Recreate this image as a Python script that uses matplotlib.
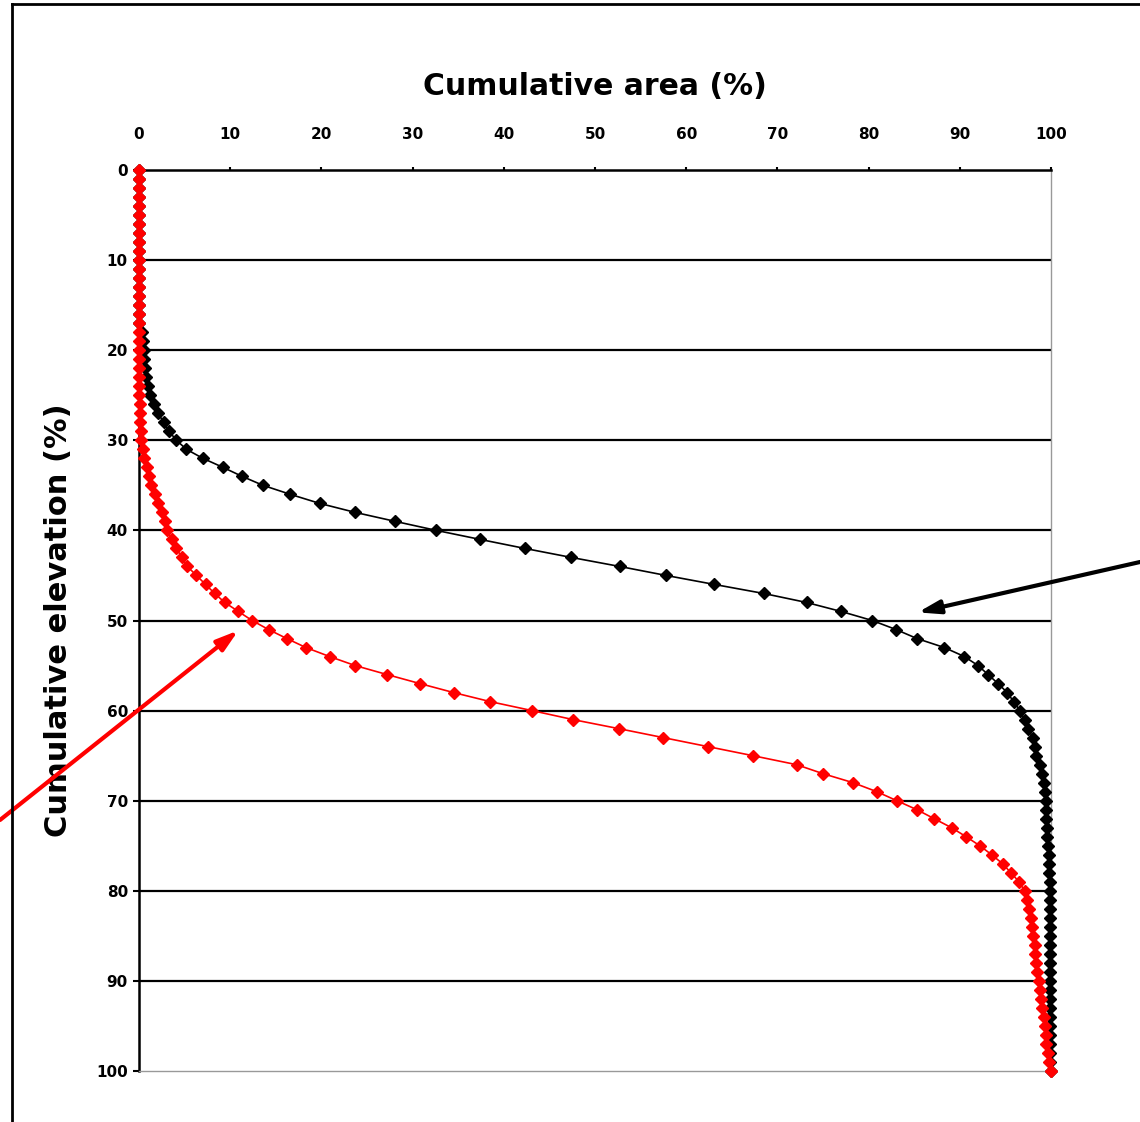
import matplotlib
matplotlib.use("Agg")
import matplotlib.pyplot as plt
import numpy as np
from matplotlib.lines import Line2D

# cumulative elevation (%) at 1 % steps
elevation = np.arange(0, 101)

# cumulative area (%), one value per elevation step
black_area = [
    0.0, 0.0, 0.0, 0.0, 0.0, 0.0, 0.0, 0.0, 0.0, 0.0,
    0.0, 0.0, 0.0, 0.0, 0.0, 0.0, 0.0, 0.0, 0.3, 0.4,
    0.5, 0.6, 0.7, 0.8, 1.0, 1.2, 1.6, 2.1, 2.7, 3.3,
    4.1, 5.2, 7.0, 9.2, 11.3, 13.6, 16.6, 19.8, 23.7, 28.1,
    32.6, 37.4, 42.3, 47.4, 52.7, 57.8, 63.1, 68.5, 73.2, 77.0,
    80.4, 83.0, 85.3, 88.3, 90.5, 92.0, 93.1, 94.2, 95.2, 95.9,
    96.6, 97.1, 97.5, 98.0, 98.2, 98.4, 98.8, 99.0, 99.2, 99.3,
    99.4, 99.5, 99.5, 99.6, 99.6, 99.7, 99.8, 99.8, 99.8, 99.9,
    99.9, 99.9, 99.9, 99.9, 99.9, 99.9, 99.9, 99.9, 99.9, 99.9,
    99.9, 99.9, 99.9, 99.9, 99.9, 99.9, 99.9, 99.9, 99.9, 99.9,
    100.0,
]
red_area = [
    0.0, 0.0, 0.0, 0.0, 0.0, 0.0, 0.0, 0.0, 0.0, 0.0,
    0.0, 0.0, 0.0, 0.0, 0.0, 0.0, 0.0, 0.0, 0.0, 0.0,
    0.0, 0.0, 0.0, 0.0, 0.0, 0.05, 0.1, 0.12, 0.15, 0.18,
    0.2, 0.4, 0.6, 0.85, 1.1, 1.35, 1.7, 2.1, 2.5, 2.8,
    3.1, 3.6, 4.1, 4.7, 5.3, 6.3, 7.3, 8.3, 9.4, 10.9,
    12.4, 14.2, 16.2, 18.3, 20.9, 23.7, 27.2, 30.8, 34.5, 38.5,
    43.1, 47.6, 52.6, 57.5, 62.4, 67.3, 72.1, 75.0, 78.3, 80.9,
    83.1, 85.3, 87.2, 89.1, 90.7, 92.2, 93.5, 94.7, 95.6, 96.5,
    97.1, 97.4, 97.6, 97.8, 97.9, 98.0, 98.2, 98.3, 98.4, 98.5,
    98.7, 98.8, 98.9, 99.0, 99.2, 99.3, 99.4, 99.5, 99.7, 99.8,
    100.0,
]

x_ticks = [0, 10, 20, 30, 40, 50, 60, 70, 80, 90, 100]
y_ticks = [0, 10, 20, 30, 40, 50, 60, 70, 80, 90, 100]

fig = plt.figure(figsize=(11.4, 11.22), dpi=100)
ax = fig.add_axes([139 / 1140, 1 - 1071 / 1122, (1051 - 139) / 1140, (1071 - 170) / 1122])

for y in y_ticks[1:-1]:
    ax.axhline(y, color="black", lw=1.6, zorder=1)

ax.plot(black_area, elevation, color="black", lw=1.2, marker="D", ms=6,
        zorder=3, clip_on=False)
ax.plot(red_area, elevation, color="#ff0000", lw=1.2, marker="D", ms=6.5,
        zorder=4, clip_on=False)

ax.set_xlim(0, 100)
ax.set_ylim(100, 0)
ax.xaxis.tick_top()
ax.xaxis.set_label_position("top")
ax.set_xticks(x_ticks)
ax.set_yticks(y_ticks)
ax.tick_params(axis="x", direction="out", length=2.5, width=1.5, pad=18,
               labelsize=11)
ax.tick_params(axis="y", direction="out", length=4, width=1.5, pad=4,
               labelsize=11)
for lab in ax.get_xticklabels() + ax.get_yticklabels():
    lab.set_fontweight("bold")

ax.spines["top"].set_linewidth(1.8)
ax.spines["left"].set_linewidth(1.8)
for side in ("right", "bottom"):
    ax.spines[side].set_color("#999999")
    ax.spines[side].set_linewidth(1.0)

ax.set_xlabel("Cumulative area (%)", fontsize=21.5, fontweight="bold",
              labelpad=23)
ax.set_ylabel("Cumulative elevation (%)", fontsize=22, fontweight="bold",
              labelpad=17)

# arrows pointing at the two curves, starting off the figure edge
ax.annotate("", xy=(85.4, 49.1), xycoords="data", xytext=(1140, 560),
            textcoords="figure pixels",
            arrowprops=dict(arrowstyle="-|>,head_length=1.3,head_width=0.4",
                            color="black", lw=3.0, shrinkA=0, shrinkB=0))
ax.annotate("", xy=(10.9, 51.1), xycoords="data", xytext=(0, 302),
            textcoords="figure pixels",
            arrowprops=dict(arrowstyle="-|>,head_length=1.3,head_width=0.4",
                            color="#ff0000", lw=3.0, shrinkA=0, shrinkB=0))

# outer frame (top and left edges visible)
fig.add_artist(Line2D([12 / 1140, 12 / 1140], [0, 1 - 4 / 1122], color="black",
                      lw=2, transform=fig.transFigure))
fig.add_artist(Line2D([12 / 1140, 1], [1 - 4 / 1122, 1 - 4 / 1122], color="black",
                      lw=2, transform=fig.transFigure))

fig.savefig("out.png", dpi=100)
